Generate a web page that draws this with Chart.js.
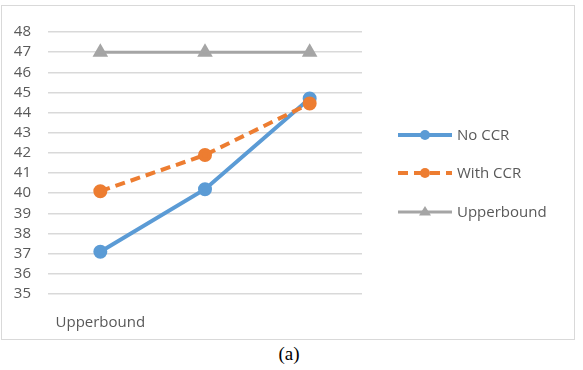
<!DOCTYPE html>
<html><head><meta charset="utf-8">
<script src="https://cdn.jsdelivr.net/npm/chart.js@4"></script>
<style>
html,body{margin:0;padding:0;background:#fff;width:583px;height:370px;overflow:hidden;}
#frame{position:absolute;left:1px;top:5px;width:574px;height:335px;border:1px solid #D9D9D9;box-sizing:border-box;}
#wrap{position:absolute;left:2px;top:6px;width:572px;height:333px;}
#cap{position:absolute;left:0;width:578px;top:343px;text-align:center;font-family:"Liberation Serif","Times New Roman",serif;font-size:19px;color:#000;}
</style></head>
<body>
<div id="frame"></div>
<div id="wrap"><canvas id="c"></canvas></div>
<div id="cap">(a)</div>
<script>
const categories = ["Upperbound", "", ""];
const noCCR = [37.1, 40.2, 44.7];
const withCCR = [40.1, 41.9, 44.45];
const upperbound = [47, 47, 47];
const seriesNames = ["No CCR", "With CCR", "Upperbound"];
const yMin = 35, yMax = 48, yStep = 1;

const FONT = '"Open Sans", sans-serif';
const legendPlugin = {
  id: 'customLegend',
  afterDraw(chart) {
    const ctx = chart.ctx;
    const ys = [129, 167, 206];
    chart.data.datasets.forEach((ds, i) => {
      const y = ys[i];
      ctx.save();
      ctx.strokeStyle = ds.borderColor;
      ctx.lineWidth = ds.borderWidth;
      ctx.setLineDash(ds.borderDash || []);
      ctx.beginPath();
      ctx.moveTo(396, y); ctx.lineTo(450, y);
      ctx.stroke();
      ctx.setLineDash([]);
      ctx.fillStyle = ds.pointBackgroundColor;
      if (ds.pointStyle === 'triangle') {
        const r = 6;
        ctx.beginPath();
        ctx.moveTo(423, y - r); ctx.lineTo(423 + r, y + r*0.6); ctx.lineTo(423 - r, y + r*0.6);
        ctx.closePath(); ctx.fill();
      } else {
        ctx.beginPath(); ctx.arc(423, y, 5, 0, Math.PI*2); ctx.fill();
      }
      ctx.fillStyle = '#595959';
      ctx.font = '15px ' + FONT;
      ctx.textBaseline = 'middle';
      ctx.textAlign = 'left';
      ctx.fillText(ds.label, 455, y + 1);
      ctx.restore();
    });
  }
};

new Chart(document.getElementById('c'), {
  type: 'line',
  data: {
    labels: categories,
    datasets: [
      { label: seriesNames[0], data: noCCR, borderColor: '#5B9BD5', backgroundColor: '#5B9BD5',
        pointBackgroundColor: '#5B9BD5', pointBorderColor: '#5B9BD5', borderWidth: 4,
        pointRadius: 5, pointStyle: 'circle', tension: 0, order: 1 },
      { label: seriesNames[1], data: withCCR, borderColor: '#ED7D31', backgroundColor: '#ED7D31',
        pointBackgroundColor: '#ED7D31', pointBorderColor: '#ED7D31', borderWidth: 4, borderDash: [10, 6],
        pointRadius: 5, pointStyle: 'circle', tension: 0, order: 0 },
      { label: seriesNames[2], data: upperbound, borderColor: '#A5A5A5', backgroundColor: '#A5A5A5',
        pointBackgroundColor: '#A5A5A5', pointBorderColor: '#A5A5A5', borderWidth: 3,
        pointRadius: 6, pointStyle: 'triangle', tension: 0, order: 2 }
    ]
  },
  options: {
    responsive: true, maintainAspectRatio: false, animation: false,
    layout: { padding: { top: 25, right: 212, left: 0, bottom: 0 } },
    plugins: { legend: { display: false }, tooltip: { enabled: false } },
    scales: {
      x: {
        offset: true,
        grid: { display: false },
        border: { display: false },
        ticks: { color: '#595959', font: { family: FONT, size: 15 }, padding: 12, maxRotation: 0, autoSkip: false },
        afterFit(s) { s.height = 45; }
      },
      y: {
        min: yMin, max: yMax,
        grid: { color: '#D9D9D9', lineWidth: 1.5, drawTicks: false },
        border: { display: false },
        ticks: { stepSize: yStep, autoSkip: false, color: '#595959', font: { family: FONT, size: 15 }, padding: 17 },
        afterFit(s) { s.width = 46; }
      }
    }
  },
  plugins: [legendPlugin]
});
</script>
</body></html>
